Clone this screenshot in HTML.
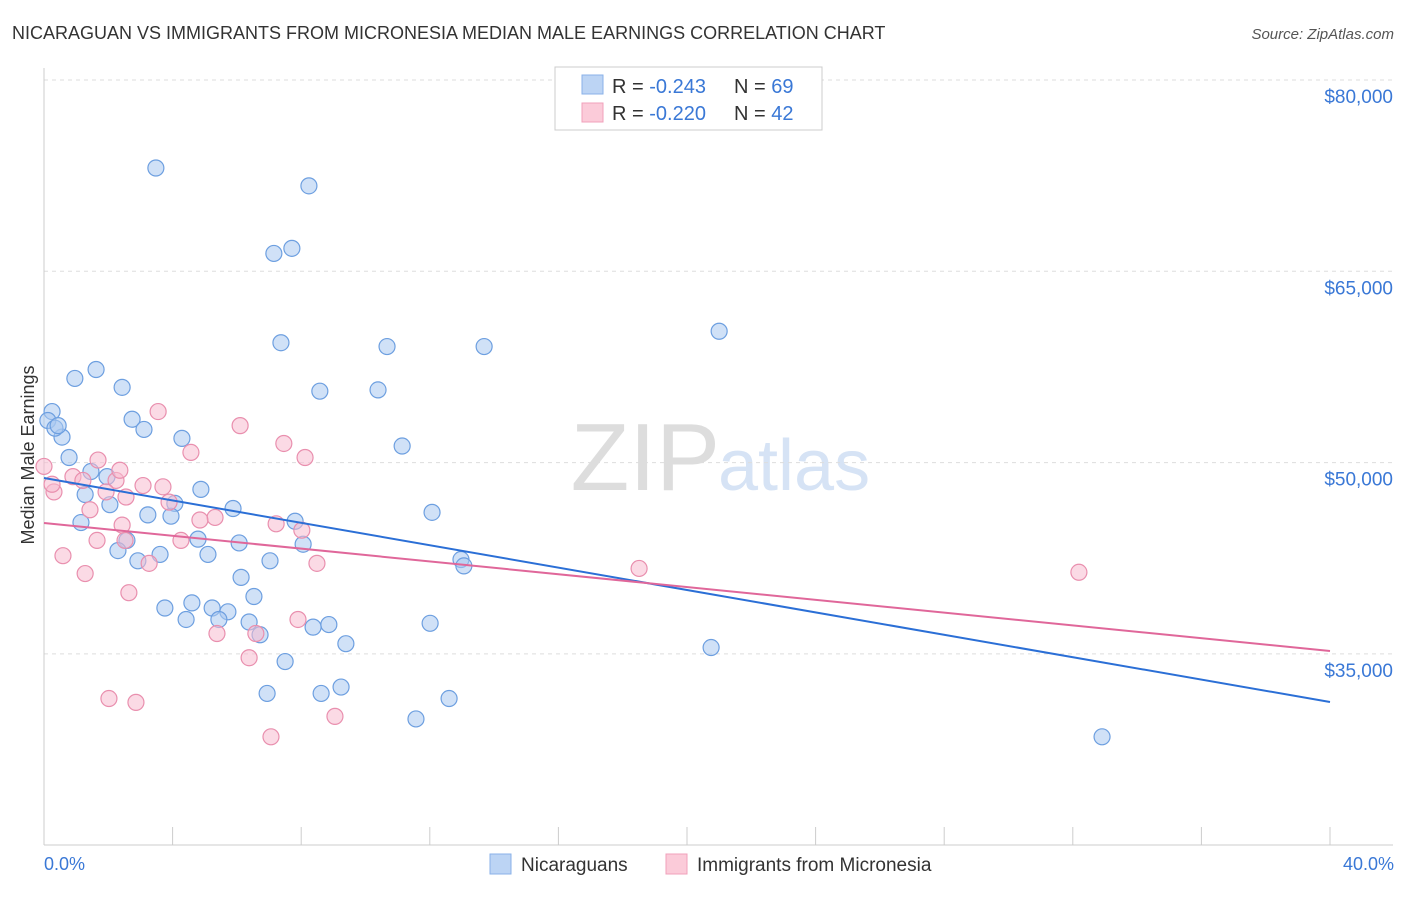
<!DOCTYPE html>
<html><head><meta charset="utf-8"><style>
body{margin:0;background:#fff;font-family:"Liberation Sans",sans-serif}
svg text{font-family:"Liberation Sans",sans-serif}
</style></head><body>
<svg id="chart" width="1406" height="892">
<text x="12" y="39" font-size="18" fill="#333">NICARAGUAN VS IMMIGRANTS FROM MICRONESIA MEDIAN MALE EARNINGS CORRELATION CHART</text>
<text x="1394" y="39" font-size="15" fill="#555" font-style="italic" text-anchor="end">Source: ZipAtlas.com</text>
<text x="720" y="490" font-size="96" fill="#ddd" text-anchor="end" font-family="Liberation Serif">ZIP</text>
<text x="718" y="490" font-size="72" fill="#d6e3f5">atlas</text>
<g id="grid"></g><g id="axes"></g><g id="marks"></g>
<text transform="translate(34,455) rotate(-90)" font-size="18" fill="#333" text-anchor="middle">Median Male Earnings</text>
<text x="44" y="870" font-size="18" fill="#3a78d6">0.0%</text>
<text x="1394" y="870" font-size="18" fill="#3a78d6" text-anchor="end">40.0%</text>
<g>
<rect x="555" y="67" width="267" height="63" fill="#fff" stroke="#ccc"/>
<rect x="582" y="75" width="21" height="19" fill="#bcd4f4" stroke="#8ab1e8"/>
<rect x="582" y="103" width="21" height="19" fill="#fbcbd9" stroke="#f0a0bb"/>
<text x="612" y="93" font-size="20" fill="#333">R = <tspan fill="#3a78d6">-0.243</tspan><tspan x="734">N = </tspan><tspan fill="#3a78d6">69</tspan></text>
<text x="612" y="120" font-size="20" fill="#333">R = <tspan fill="#3a78d6">-0.220</tspan><tspan x="734">N = </tspan><tspan fill="#3a78d6">42</tspan></text>
</g>
<g>
<rect x="490" y="854" width="21" height="20" fill="#bcd4f4" stroke="#8ab1e8"/>
<text x="521" y="871" font-size="19" fill="#333">Nicaraguans</text>
<rect x="666" y="854" width="21" height="20" fill="#fbcbd9" stroke="#f0a0bb"/>
<text x="697" y="871" font-size="19" fill="#333">Immigrants from Micronesia</text>
</g>
</svg>
<script>
const yTicks=[80000,65000,50000,35000];
const yTickLabels=["$80,000","$65,000","$50,000","$35,000"];
const xTicks=[0,4,8,12,16,20,24,28,32,36,40];
const blueX=[3.48,8.24,7.71,7.15,21.0,7.37,10.67,13.69,1.62,0.96,2.43,8.58,10.39,0.25,2.74,3.11,0.56,4.29,11.14,0.78,1.46,1.96,1.28,4.88,2.05,4.07,3.23,5.88,3.95,12.07,7.81,1.15,4.79,2.58,6.07,8.06,2.30,3.61,5.10,2.92,7.03,12.97,13.06,6.13,6.53,4.60,3.76,5.23,5.72,4.42,5.44,6.38,8.86,8.37,12.01,6.72,9.39,20.75,7.50,9.24,6.94,8.62,12.60,11.57,32.91,0.12,0.34,0.44];
const blueY=[73100,71700,66800,66400,60300,59400,59100,59100,57300,56600,55900,55600,55700,54000,53400,52600,52000,51900,51300,50400,49300,48900,47500,47900,46700,46800,45900,46400,45800,46100,45400,45300,44000,43900,43700,43600,43100,42800,42800,42300,42300,42400,41900,41000,39500,39000,38600,38600,38300,37700,37700,37500,37300,37100,37400,36500,35800,35500,34400,32400,31900,31900,31500,29900,28500,53300,52700,52900];
const pinkX=[3.55,6.10,7.46,4.57,1.68,8.12,0.0,0.90,2.24,3.08,3.70,0.31,1.93,2.55,3.89,1.43,5.32,4.85,7.22,8.02,2.43,2.52,4.26,1.65,0.59,3.27,8.49,18.51,32.19,1.28,2.64,7.90,5.38,6.59,6.38,2.02,2.86,9.05,7.06,0.25,1.21,2.36];
const pinkY=[54000,52900,51500,50800,50200,50400,49700,48900,48600,48200,48100,47700,47700,47300,46900,46300,45700,45500,45200,44700,45100,43900,43900,43900,42700,42100,42100,41700,41400,41300,39800,37700,36600,36600,34700,31500,31200,30100,28500,48300,48600,49400];
const blueTrend=[48790,31230];
const pinkTrend=[45260,35230];
const NS="http://www.w3.org/2000/svg";
const sx=v=>44+v/40*1286;
const sy=v=>80+(80000-v)/15000*191.3;
function mk(tag,attrs,parent){const e=document.createElementNS(NS,tag);for(const k in attrs)e.setAttribute(k,attrs[k]);parent.appendChild(e);return e;}
const grid=document.getElementById('grid'),axes=document.getElementById('axes'),marks=document.getElementById('marks');
yTicks.forEach((t,i)=>{
 const l=mk('line',{x1:44,x2:1393,y1:sy(t),y2:sy(t),stroke:'#ddd','stroke-dasharray':'4,4'},grid);
 
 
 const tx=mk('text',{x:1393,y:sy(t)+23,'font-size':19,fill:'#3a78d6','text-anchor':'end'},axes);
 tx.textContent=yTickLabels[i];
 
 
});
const ya=mk('line',{x1:44,x2:44,y1:68,y2:845,stroke:'#ccc'},axes);


const xa=mk('line',{x1:44,x2:1393,y1:845,y2:845,stroke:'#ccc'},axes);


xTicks.forEach(t=>{
 const l=mk('line',{x1:sx(t),x2:sx(t),y1:827,y2:845,stroke:'#ccc'},axes);
 
 
});
function dots(xs,ys,fill,stroke,name){
 xs.forEach((x,i)=>{
  const c=mk('circle',{cx:sx(x),cy:sy(ys[i]),r:8,fill:fill,'fill-opacity':0.55,stroke:stroke,'stroke-width':1.2},marks);
  
  
 });
}
dots(blueX,blueY,'#a9c8f0','#6d9fe0','nicaraguan-point');
dots(pinkX,pinkY,'#f7bccf','#e98fae','micronesia-point');
const bl=mk('line',{x1:sx(0),y1:sy(blueTrend[0]),x2:sx(40),y2:sy(blueTrend[1]),stroke:'#2b6fd6','stroke-width':2},marks);


const pl=mk('line',{x1:sx(0),y1:sy(pinkTrend[0]),x2:sx(40),y2:sy(pinkTrend[1]),stroke:'#e0679a','stroke-width':2},marks);


</script>
</body></html>
